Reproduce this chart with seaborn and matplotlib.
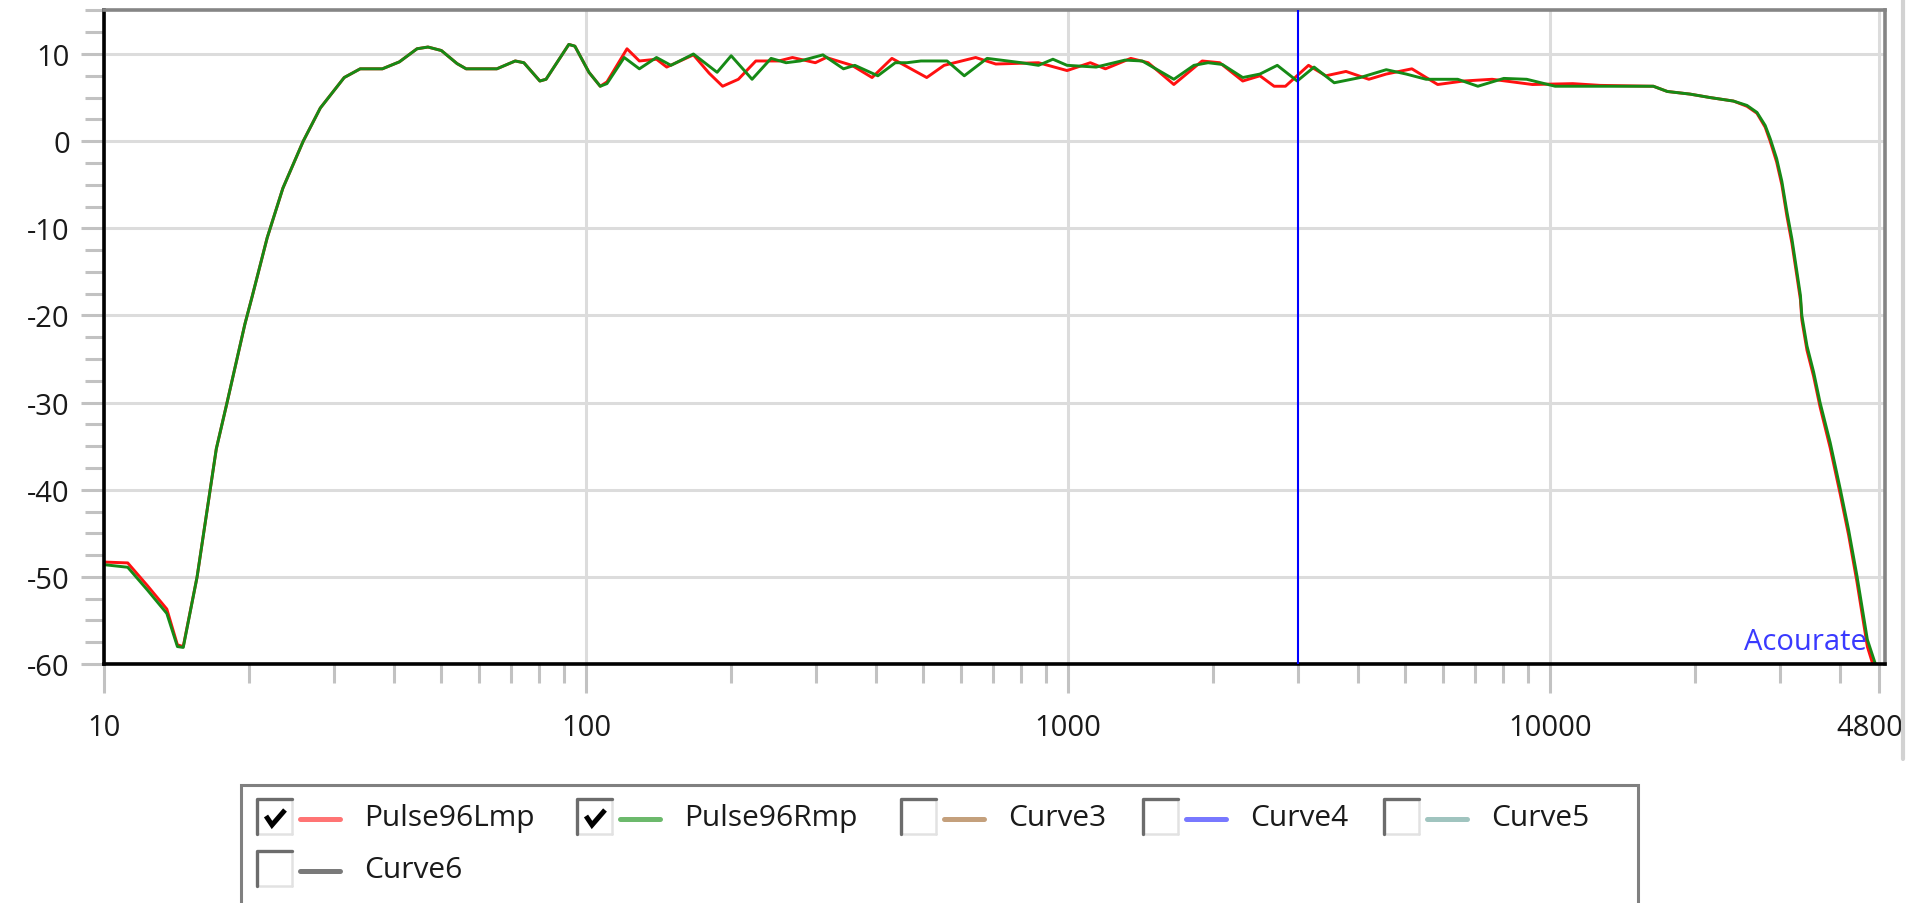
import pandas as pd
import matplotlib
matplotlib.use("Agg")
import matplotlib.pyplot as plt
from matplotlib.patches import Rectangle
from matplotlib.lines import Line2D
from matplotlib.ticker import FixedLocator, LogLocator, MultipleLocator, NullFormatter
import seaborn as sns

# measured magnitude response, left channel (red)
freq_l = [10, 11.2, 12.3, 13.5, 14.2, 14.6, 15.6, 17.1, 18.0, 19.6, 20.3, 21.8, 23.5, 25.9,
          28.1, 31.5, 34.0, 37.8, 41.0, 44.6, 47.0, 50.1, 54.0, 56.4, 65.3, 71.3, 74.3, 80.2,
          82.6, 92.1, 94.8, 101.4, 107, 110.5, 121.6, 129, 140, 147, 167, 180, 192, 207, 225,
          251, 268, 299, 315, 356, 392, 431, 509, 553, 643, 708, 868, 995, 1112, 1195, 1349,
          1466, 1657, 1897, 2063, 2303, 2500, 2675, 2824, 3153, 3425, 3771, 4206, 4571, 5166,
          5843, 6610, 7580, 9190, 11140, 12700, 16370, 17500, 19500, 21480, 24000, 25600,
          26850, 27930, 28600, 29500, 30240, 30980, 31730, 32500, 33050, 33270, 34100, 35200,
          36300, 38100, 40000, 41600, 43300, 45500, 47600, 48000]
db_l = [-48.3, -48.4, -51.0, -53.7, -57.8, -58.0, -50.0, -35.3, -30.0, -21.0, -17.8, -11.1,
        -5.4, 0.0, 3.8, 7.3, 8.3, 8.3, 9.1, 10.6, 10.8, 10.4, 8.9, 8.3, 8.3, 9.2, 9.0, 6.9,
        7.1, 11.1, 10.9, 7.9, 6.3, 6.8, 10.6, 9.2, 9.4, 8.5, 9.9, 7.8, 6.3, 7.1, 9.2,
        9.2, 9.6, 9.0, 9.6, 8.7, 7.3, 9.5, 7.3, 8.7, 9.6, 8.85, 9.0, 8.1, 9.0, 8.3, 9.5,
        9.0, 6.5, 9.2, 9.0, 6.9, 7.5, 6.3, 6.3, 8.7, 7.5, 8.0, 7.1, 7.7, 8.3,
        6.5, 6.9, 7.1, 6.5, 6.6, 6.4, 6.3, 5.7, 5.4, 5.0, 4.6, 4.0,
        3.2, 1.6, 0.0, -2.4, -5.0, -8.6, -11.7, -15.5, -18.2, -20.5, -24.0, -27.0,
        -30.5, -35.2, -40.6, -45.2, -50.6, -58.0, -61.5, -62.5]

# measured magnitude response, right channel (green)
freq_r = [10, 11.2, 12.3, 13.5, 14.2, 14.6, 15.6, 17.1, 18.0, 19.6, 20.3, 21.8, 23.5, 25.9,
          28.1, 31.5, 34.0, 37.8, 41.0, 44.6, 47.0, 50.1, 54.0, 56.4, 65.3, 71.3, 74.3, 80.2,
          82.6, 92.1, 94.8, 101.4, 107, 110.5, 120, 129, 140, 150, 167, 187, 200, 221, 242,
          260, 278, 310, 342, 361, 403, 438, 463, 495, 561, 609, 679, 800, 868, 930, 995,
          1143, 1312, 1425, 1657, 1824, 1952, 2089, 2303, 2500, 2716, 2987, 3238, 3565, 4036,
          4571, 5027, 5530, 6430, 7080, 8013, 8940, 10240, 12700, 16370, 17500, 19500, 21480,
          24000, 25600, 26850, 27930, 28600, 29500, 30240, 30980, 31730, 32500, 33050, 33270,
          34100, 35200, 36300, 38100, 40000, 41600, 43300, 45500, 47600, 48000]
db_r = [-48.6, -48.9, -51.5, -54.2, -58.0, -58.1, -50.0, -35.3, -30.0, -21.0, -17.8, -11.1,
        -5.4, 0.0, 3.8, 7.3, 8.3, 8.3, 9.1, 10.6, 10.8, 10.4, 8.9, 8.3, 8.3, 9.2, 9.0, 6.9,
        7.1, 11.1, 10.9, 7.9, 6.3, 6.6, 9.6, 8.3, 9.6, 8.7, 10.0, 7.9, 9.8, 7.1, 9.5,
        9.0, 9.2, 9.9, 8.3, 8.7, 7.5, 9.0, 9.0, 9.2, 9.2, 7.5, 9.5, 9.0, 8.7, 9.4, 8.7,
        8.5, 9.3, 9.2, 7.1, 8.7, 9.0, 8.8, 7.3, 7.7, 8.7, 6.9, 8.5, 6.7, 7.3,
        8.2, 7.7, 7.1, 7.1, 6.3, 7.2, 7.1, 6.3, 6.3, 6.3, 5.7, 5.4, 5.0,
        4.6, 4.1, 3.3, 1.8, 0.3, -2.0, -4.6, -8.1, -11.2, -15.0, -17.7, -20.0,
        -23.5, -26.5, -30.0, -34.6, -40.0, -44.6, -49.9, -57.2, -60.5, -61.5]

curve_names = ["Pulse96Lmp", "Pulse96Rmp", "Curve3", "Curve4", "Curve5", "Curve6"]
curve_checked = [True, True, False, False, False, False]
legend_colors = ["#ff7474", "#6cb96c", "#c4a07c", "#7878ff", "#a0c4bf", "#7a7a7a"]
plot_colors = {"Pulse96Lmp": "#ff1010", "Pulse96Rmp": "#168a16"}

cursor_freq = 3000
x_major = [10, 100, 1000, 10000, 48000]
x_major_labels = ["10", "100", "1000", "10000", "48000"]

df = pd.concat([
    pd.DataFrame({"freq": freq_l, "db": db_l, "curve": "Pulse96Lmp"}),
    pd.DataFrame({"freq": freq_r, "db": db_r, "curve": "Pulse96Rmp"}),
])

sns.set_style("white")
plt.rcParams["font.family"] = ["Open Sans", "DejaVu Sans"]
plt.rcParams["axes.unicode_minus"] = False

W, H = 1922, 904
fig = plt.figure(figsize=(W / 100, H / 100), dpi=100)
ax = fig.add_axes([104 / W, 1 - 665 / H, (1885 - 104) / W, (665 - 11) / H])

sns.lineplot(data=df, x="freq", y="db", hue="curve", palette=plot_colors,
             hue_order=["Pulse96Lmp", "Pulse96Rmp"], estimator=None, sort=False,
             lw=2.1, legend=False, ax=ax)
ax.axvline(cursor_freq, color="#0000ff", lw=1.5, zorder=3)

ax.set_xscale("log")
ax.set_xlim(10, 49500)
ax.set_ylim(-60, 15.05)
ax.set_xlabel("")
ax.set_ylabel("")

ax.xaxis.set_major_locator(FixedLocator(x_major))
ax.set_xticklabels(x_major_labels)
ax.xaxis.set_minor_locator(LogLocator(base=10, subs=range(2, 10)))
ax.xaxis.set_minor_formatter(NullFormatter())
ax.yaxis.set_major_locator(MultipleLocator(10))
ax.yaxis.set_minor_locator(MultipleLocator(2.5))

ax.set_axisbelow(True)
ax.grid(True, which="major", color="#dcdcdc", lw=2.2)

tick_col = "#c2c2c2"
ax.tick_params(axis="x", which="major", bottom=True, length=21, width=2.2, color=tick_col,
               pad=14, labelsize=21, labelcolor="#1a1a1a")
ax.tick_params(axis="x", which="minor", bottom=True, length=14, width=2.2, color=tick_col)
ax.tick_params(axis="y", which="major", left=True, length=16.5, width=2.2, color=tick_col,
               pad=8, labelsize=21, labelcolor="#1a1a1a")
ax.tick_params(axis="y", which="minor", left=True, length=14, width=2.2, color=tick_col)

for side in ["left", "bottom"]:
    ax.spines[side].set_color("black")
    ax.spines[side].set_linewidth(2.6)
for side in ["top", "right"]:
    ax.spines[side].set_color("#858585")
    ax.spines[side].set_linewidth(2.6)

ax.text(0.9899, 0.023, "Acourate", transform=ax.transAxes, ha="right", va="baseline",
        color="#3a3aff", fontsize=21)

# overlay in pixel coordinates for the legend panel and window edge
lax = fig.add_axes([0, 0, 1, 1], zorder=5)
lax.set_xlim(0, W)
lax.set_ylim(H, 0)
lax.axis("off")
lax.patch.set_alpha(0)

lax.add_patch(Rectangle((1901, 0), 21, H, facecolor="white", edgecolor="none"))
lax.add_line(Line2D([1903, 1903], [0, 760], color="#d2d2d2", lw=3))

lax.add_patch(Rectangle((241, 786), 1397, 200, facecolor="white", edgecolor="#808080", lw=2.2))

item_pos = [(257, 800), (577, 800), (901, 800), (1143, 800), (1384, 800), (257, 852)]
for name, checked, col, (x0, y0) in zip(curve_names, curve_checked, legend_colors, item_pos):
    s = 35
    lax.add_patch(Rectangle((x0, y0), s, s, facecolor="white", edgecolor="none"))
    lax.add_line(Line2D([x0, x0 + s], [y0 + s, y0 + s], color="#e2e2e2", lw=1.8))
    lax.add_line(Line2D([x0 + s, x0 + s], [y0, y0 + s], color="#e2e2e2", lw=1.8))
    lax.add_line(Line2D([x0, x0, x0 + s], [y0 + s, y0, y0], color="#6c6c6c", lw=2.4))
    if checked:
        lax.add_line(Line2D([x0 + 9, x0 + 15, x0 + 28], [y0 + 17, y0 + 26, y0 + 11],
                            color="black", lw=3.6, solid_capstyle="butt",
                            solid_joinstyle="miter"))
    lax.add_line(Line2D([x0 + 43, x0 + 83], [y0 + 20, y0 + 20], color=col, lw=3.6))
    lax.text(x0 + 107, y0 + 19, name, ha="left", va="center", fontsize=21.5, color="#1a1a1a")

fig.savefig("out.png", dpi=100)
